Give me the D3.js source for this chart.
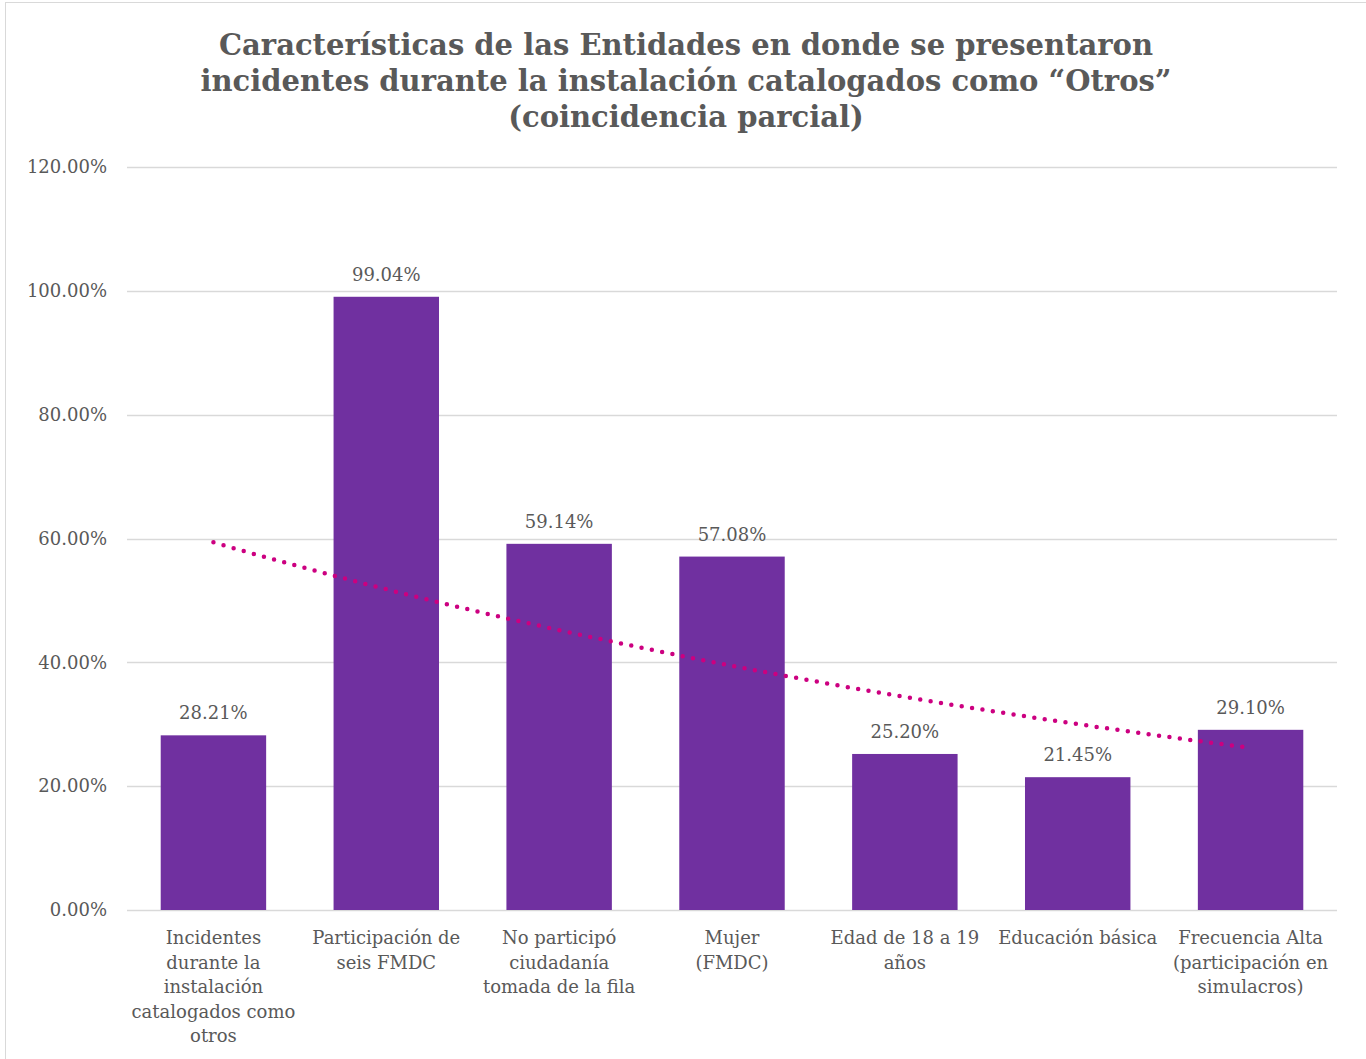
<!DOCTYPE html>
<html>
<head>
<meta charset="utf-8">
<script src="https://cdn.jsdelivr.net/npm/d3@7"></script>
<style>
  body { margin: 0; background: #fff; }
  svg text { font-family: Georgia, "DejaVu Serif", serif; fill: #595959; }
</style>
</head>
<body>
<svg id="chart"></svg>
<script>
// categories, each split in the lines shown under the axis
const categories = [
  ["Incidentes", "durante la", "instalación", "catalogados como", "otros"],
  ["Participación de", "seis FMDC"],
  ["No participó", "ciudadanía", "tomada de la fila"],
  ["Mujer", "(FMDC)"],
  ["Edad de 18 a 19", "años"],
  ["Educación básica"],
  ["Frecuencia Alta", "(participación en", "simulacros)"]
];
const values = [28.21, 99.04, 59.14, 57.08, 25.20, 21.45, 29.10];
const yTicks = [0, 20, 40, 60, 80, 100, 120];
const titleLines = [
  "Características de las Entidades en donde se presentaron",
  "incidentes durante la instalación catalogados como “Otros”",
  "(coincidencia parcial)"
];

const W = 1366, H = 1059;
const margin = { top: 167, right: 29, bottom: 149, left: 127 };
const width = W - margin.left - margin.right;
const height = H - margin.top - margin.bottom;

const svg = d3.select("#chart").attr("width", W).attr("height", H);

// chart frame
svg.append("rect")
  .attr("x", 5.5).attr("y", 2.5)
  .attr("width", W).attr("height", H)
  .attr("fill", "none").attr("stroke", "#d9d9d9").attr("stroke-width", 1);

// title
svg.append("text")
  .attr("text-anchor", "middle")
  .style("font-weight", "bold")
  .style("font-size", "29px")
  .selectAll("tspan")
  .data(titleLines)
  .join("tspan")
  .attr("x", 686)
  .attr("y", (d, i) => 55 + i * 36)
  .text(d => d);

const chart = svg.append("g")
  .attr("transform", `translate(${margin.left},${margin.top})`);

const x = d3.scaleBand()
  .domain(d3.range(values.length))
  .range([0, width])
  .paddingInner(0.39)
  .paddingOuter(0.195);

const y = d3.scaleLinear().domain([0, 120]).range([height, 0]);

// gridlines
chart.append("g")
  .selectAll("line")
  .data(yTicks)
  .join("line")
  .attr("x1", 0).attr("x2", width)
  .attr("y1", d => Math.round(y(d)) + 0.5)
  .attr("y2", d => Math.round(y(d)) + 0.5)
  .attr("stroke", "#d9d9d9")
  .attr("stroke-width", 1.5);

// y axis
const yAxis = d3.axisLeft(y)
  .tickValues(yTicks)
  .tickSize(0)
  .tickPadding(20)
  .tickFormat(d => d.toFixed(2) + "%");

chart.append("g")
  .call(yAxis)
  .call(g => g.select(".domain").remove())
  .call(g => g.selectAll("text")
    .style("font-family", 'Georgia, "DejaVu Serif", serif')
    .style("font-size", "18px")
    .attr("fill", "#595959"));

// bars
chart.selectAll(".bar")
  .data(values)
  .join("rect")
  .attr("class", "bar")
  .attr("x", (d, i) => x(i))
  .attr("y", d => y(d))
  .attr("width", x.bandwidth())
  .attr("height", d => height - y(d))
  .attr("fill", "#7030a0");

// data labels
chart.selectAll(".label")
  .data(values)
  .join("text")
  .attr("class", "label")
  .attr("x", (d, i) => x(i) + x.bandwidth() / 2)
  .attr("y", d => y(d) - 16)
  .attr("text-anchor", "middle")
  .style("font-size", "18px")
  .text(d => d.toFixed(2) + "%");

// category labels
chart.selectAll(".cat")
  .data(categories)
  .join("text")
  .attr("class", "cat")
  .attr("text-anchor", "middle")
  .style("font-size", "18px")
  .selectAll("tspan")
  .data((d, i) => d.map(t => ({ t, i })))
  .join("tspan")
  .attr("x", d => x(d.i) + x.bandwidth() / 2)
  .attr("y", (d, j) => height + 34 + j * 24.5)
  .text(d => d.t);

// exponential trendline (least squares on ln y), like the spreadsheet one
const xs = values.map((d, i) => i + 1);
const lys = values.map(d => Math.log(d));
const mx = d3.mean(xs), my = d3.mean(lys);
const b = d3.sum(xs, (xv, i) => (xv - mx) * (lys[i] - my)) / d3.sum(xs, xv => (xv - mx) ** 2);
const a = my - b * mx;
const trend = d3.range(1, values.length + 0.001, 0.1).map(t => [t, Math.exp(a + b * t)]);

const tx = t => x(0) + x.bandwidth() / 2 + (t - 1) * x.step();

chart.append("path")
  .datum(trend)
  .attr("fill", "none")
  .attr("stroke", "#cc0080")
  .attr("stroke-width", 4.5)
  .attr("stroke-linecap", "round")
  .attr("stroke-dasharray", "0 10.5")
  .attr("d", d3.line().x(d => tx(d[0])).y(d => y(d[1])));
</script>
</body>
</html>
